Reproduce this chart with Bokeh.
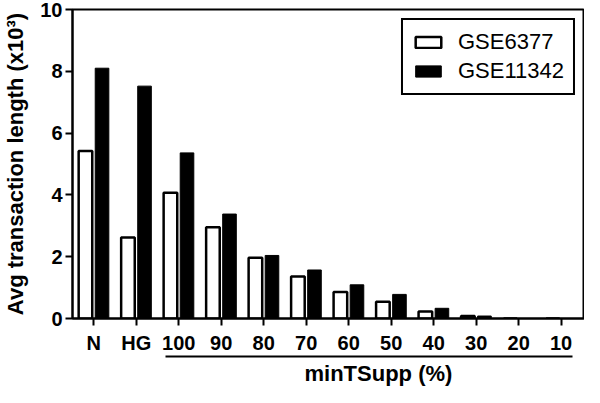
from bokeh.plotting import figure
from bokeh.models import (ColumnDataSource, Range1d, LinearAxis,
                          FixedTicker, Legend, LegendItem, Title)
from bokeh.transform import dodge
from bokeh.embed import file_html
from bokeh.resources import INLINE

categories = ["N", "HG", "100", "90", "80", "70", "60", "50", "40", "30", "20", "10"]
gse6377 = [5.42, 2.62, 4.07, 2.95, 1.97, 1.36, 0.86, 0.54, 0.23, 0.08, 0.0, 0.0]
gse11342 = [8.1, 7.52, 5.36, 3.38, 2.04, 1.57, 1.09, 0.78, 0.33, 0.08, 0.0, 0.0]
series_names = ["GSE6377", "GSE11342"]
y_ticks = [0, 2, 4, 6, 8, 10]
group_title = "minTSupp (%)"

FONT = "Liberation Sans"

pos = list(range(len(categories)))
src = ColumnDataSource(data=dict(x=pos, a=gse6377, b=gse11342))

p = figure(width=584, height=387, output_backend="svg", toolbar_location=None,
           x_range=Range1d(-0.5, len(categories) - 0.45),
           y_range=Range1d(0, 10),
           min_border_left=60, min_border_right=0, min_border_top=9,
           min_border_bottom=0)
p.background_fill_color = "white"
p.border_fill_color = "white"
p.outline_line_color = "black"
p.outline_line_width = 2
p.outline_line_alpha = 1
p.grid.visible = False

r1 = p.vbar(x=dodge("x", -0.195), top="a", width=0.32,
            source=src, fill_color="white", line_color="black", line_width=2.5)
r2 = p.vbar(x=dodge("x", 0.195), top="b", width=0.32,
            source=src, fill_color="black", line_color="black", line_width=1)

# y axis
ya = p.yaxis[0]
ya.ticker = FixedTicker(ticks=y_ticks)
ya.axis_line_width = 2
ya.major_tick_line_width = 2
ya.major_tick_out = 7
ya.major_tick_in = 0
ya.minor_tick_line_color = None
ya.major_label_text_font = FONT
ya.major_label_text_font_style = "bold"
ya.major_label_text_font_size = "20px"
ya.major_label_text_color = "black"
ya.major_label_standoff = 3
ya.axis_label = "Avg transaction length (x10\u00b3)"
ya.axis_label_text_font = FONT
ya.axis_label_text_font_style = "bold"
ya.axis_label_text_font_size = "22px"
ya.axis_label_text_color = "black"
ya.axis_label_text_line_height = 1.0
ya.axis_label_standoff = 9

# x axis
xa = p.xaxis[0]
xa.ticker = FixedTicker(ticks=pos)
xa.major_label_overrides = {i: c for i, c in zip(pos, categories)}
xa.axis_line_width = 2
xa.major_tick_line_width = 2
xa.major_tick_out = 7
xa.major_tick_in = 0
xa.minor_tick_line_color = None
xa.major_label_text_font = FONT
xa.major_label_text_font_style = "bold"
xa.major_label_text_font_size = "20px"
xa.major_label_text_color = "black"
xa.major_label_text_line_height = 1.0
xa.major_label_standoff = 6

# second (grouping) axis line under the minTSupp categories
xa2 = LinearAxis(bounds=(1.68, 11.27), ticker=FixedTicker(ticks=[]))
xa2.axis_line_width = 2
xa2.major_tick_out = 0
xa2.major_tick_in = 0
xa2.minor_tick_line_color = None
xa2.major_label_text_font_size = "0px"
xa2.major_label_standoff = 2
p.add_layout(xa2, "below")

group_lbl = Title(text=group_title, align="left", offset=232,
                  text_font=FONT, text_font_style="bold",
                  text_font_size="22px", text_color="black", standoff=4)
p.add_layout(group_lbl, "below")

legend = Legend(items=[LegendItem(label=series_names[0], renderers=[r1]),
                       LegendItem(label=series_names[1], renderers=[r2])],
                location="top_right")
legend.border_line_color = "black"
legend.border_line_alpha = 1
legend.border_line_width = 2
legend.label_text_font = FONT
legend.label_text_font_size = "22px"
legend.label_text_color = "black"
legend.glyph_width = 32
legend.glyph_height = 14
legend.label_height = 21
legend.spacing = 3
legend.padding = 9
legend.margin = 9
legend.label_standoff = 14
p.add_layout(legend)

open("out.html", "w").write(file_html(p, INLINE))
